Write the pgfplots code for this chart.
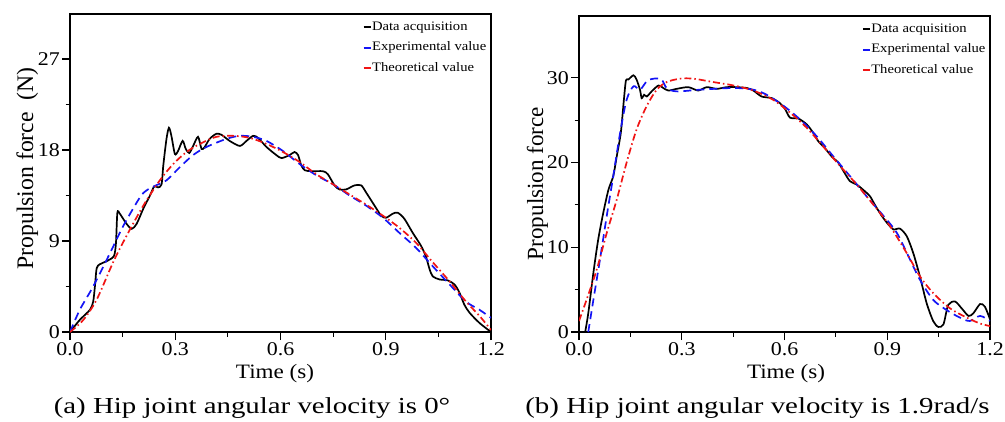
\documentclass[border=0pt]{standalone}
\usepackage{pgfplots}
\pgfplotsset{compat=1.18}
\usepackage{fontspec}
\setmainfont{Liberation Serif}[FakeStretch=1.13]
\newfontfamily\ylabfont{Liberation Serif}
\newfontfamily\capfont{Liberation Serif}[FakeStretch=1.26]
\pgfplotsset{
  myax/.style={
    scale only axis,
    xmin=0, xmax=1.2,
    xtick={0,0.3,0.6,0.9,1.2},
    minor x tick num=1,
    minor y tick num=1,
    tick pos=left,
    tick align=outside,
    major tick length=8bp,
    minor tick length=4.5bp,
    every tick/.style={black, line width=1.1bp},
    axis line style={line width=1.3bp},
    /pgf/number format/assume math mode=true,
    xticklabel={\pgfmathprintnumber[fixed,fixed zerofill,precision=1]{\tick}},
    ticklabel style={font=\fontsize{19.5}{20}\selectfont},
    xticklabel style={inner sep=0bp, text height=13.5bp, text depth=0pt, yshift=-1.5bp},
    yticklabel style={inner sep=2bp},
    legend cell align=left,
    legend style={draw=none, fill=none, inner sep=0pt, row sep=8.5bp,
      font=\fontsize{13}{13}\selectfont,
      nodes={inner sep=0pt, text height=9bp, text depth=3bp},
      /tikz/every even column/.append style={column sep=0bp}},
    legend image code/.code={\draw[#1, solid, line width=1.8bp] (0bp,0bp) -- (7.5bp,0bp);},
    clip=true,
  },
  blk/.style={black, line width=1.7bp, smooth, tension=0.45},
  blu/.style={color={rgb,255:red,20;green,20;blue,245}, line width=1.7bp, dash pattern=on 8bp off 5bp, smooth, tension=0.5},
  rd/.style={color={rgb,255:red,240;green,20;blue,20}, line width=1.7bp, dash pattern=on 7bp off 3bp on 1.5bp off 3bp, smooth, tension=0.5},
}
\begin{document}
\begin{tikzpicture}[x=1bp,y=1bp]
\path[use as bounding box] (0,0) rectangle (1005,421);
% ---------------- left panel ----------------
\begin{axis}[myax, at={(70bp,89bp)}, anchor=south west,
  width=421bp, height=318bp,
  ymin=0, ymax=31.45, ytick={0,9,18,27},
  legend style={at={(axis description cs:0.695,0.978)}, anchor=north west}]
\addplot[blk] coordinates {(0,0) (0.028,1.2) (0.057,2.2) (0.066,3.0) (0.071,4.5) (0.076,6.3) (0.085,6.7) (0.104,7.0) (0.125,7.5) (0.131,8.8) (0.135,11.8) (0.142,11.7) (0.161,10.7) (0.176,10.2) (0.19,10.7) (0.209,12.2) (0.228,13.5) (0.24,14.4) (0.251,14.3) (0.261,14.6) (0.266,16.5) (0.275,19.1) (0.282,20.2) (0.289,19.4) (0.299,17.6) (0.308,17.9) (0.321,18.9) (0.33,18.1) (0.34,17.7) (0.351,18.4) (0.365,19.3) (0.375,18.1) (0.384,18.3) (0.398,19.1) (0.417,19.6) (0.432,19.5) (0.455,18.9) (0.484,18.4) (0.503,18.9) (0.522,19.4) (0.536,19.2) (0.56,18.3) (0.588,17.5) (0.603,17.2) (0.626,17.5) (0.64,17.8) (0.65,17.5) (0.659,16.5) (0.669,16.0) (0.688,15.9) (0.721,15.9) (0.735,15.6) (0.754,14.5) (0.768,14.1) (0.787,14.1) (0.811,14.5) (0.83,14.5) (0.844,13.8) (0.868,12.5) (0.887,11.5) (0.901,11.3) (0.92,11.7) (0.934,11.8) (0.953,11.2) (0.977,9.8) (1.001,8.5) (1.015,7.4) (1.025,6.2) (1.034,5.5) (1.053,5.2) (1.077,5.1) (1.096,4.7) (1.11,3.9) (1.124,2.7) (1.139,1.9) (1.167,0.9) (1.2,0)};
\addlegendentry{Data acquisition}
\addplot[blu] coordinates {(0,0) (0.028,2.2) (0.066,4.5) (0.114,7.8) (0.152,10.5) (0.199,13.3) (0.218,14.0) (0.245,14.5) (0.275,15.0) (0.313,16.3) (0.351,17.5) (0.389,18.3) (0.446,19.1) (0.484,19.4) (0.522,19.3) (0.56,18.9) (0.607,17.9) (0.655,16.6) (0.702,15.5) (0.75,14.6) (0.797,13.5) (0.844,12.5) (0.892,11.3) (0.939,9.8) (0.987,8.3) (1.034,6.5) (1.082,4.7) (1.129,3.0) (1.167,2.2) (1.2,1.4)};
\addlegendentry{Experimental value}
\addplot[rd] coordinates {(0,0) (0.038,1.2) (0.076,3.2) (0.123,6.9) (0.161,9.5) (0.209,12.5) (0.256,15.0) (0.294,16.6) (0.332,17.8) (0.37,18.6) (0.417,19.3) (0.465,19.4) (0.512,19.2) (0.56,18.6) (0.607,17.8) (0.655,16.8) (0.702,15.6) (0.75,14.6) (0.797,13.6) (0.844,12.6) (0.892,11.5) (0.939,10.3) (0.987,8.8) (1.034,6.9) (1.082,5.0) (1.129,3.0) (1.167,1.6) (1.2,0.2)};
\addlegendentry{Theoretical value}
\end{axis}
% ---------------- right panel ----------------
\begin{axis}[myax, at={(579bp,89bp)}, anchor=south west,
  width=411bp, height=316bp,
  ymin=0, ymax=37.3, ytick={0,10,20,30},
  legend style={at={(axis description cs:0.688,0.978)}, anchor=north west}]
\addplot[blk] coordinates {(0.018,0) (0.027,2.2) (0.042,7.0) (0.056,10.9) (0.071,14.1) (0.086,16.8) (0.1,18.4) (0.11,20.7) (0.122,23.5) (0.131,27.4) (0.137,29.7) (0.144,29.8) (0.159,30.3) (0.168,29.8) (0.178,28.6) (0.183,27.6) (0.19,28.0) (0.198,27.8) (0.212,28.4) (0.232,29.1) (0.246,28.8) (0.261,28.5) (0.285,28.7) (0.319,28.9) (0.348,28.5) (0.373,28.9) (0.402,28.7) (0.431,28.9) (0.46,28.9) (0.49,28.8) (0.509,28.5) (0.533,27.8) (0.563,27.6) (0.587,27.0) (0.602,26.3) (0.616,25.3) (0.64,25.2) (0.665,24.5) (0.684,23.5) (0.699,22.5) (0.718,21.7) (0.738,20.7) (0.757,20.0) (0.772,19.0) (0.791,17.8) (0.811,17.4) (0.835,16.6) (0.85,16.0) (0.864,15.0) (0.884,13.7) (0.903,12.7) (0.918,12.1) (0.937,12.2) (0.957,11.3) (0.976,9.3) (0.995,6.6) (1.015,3.4) (1.034,1.3) (1.049,0.6) (1.064,0.9) (1.078,3.2) (1.098,3.6) (1.117,2.8) (1.137,1.9) (1.151,2.2) (1.171,3.3) (1.185,3.0) (1.2,1.5)};
\addlegendentry{Data acquisition}
\addplot[blu] coordinates {(0.027,0) (0.042,3.8) (0.061,8.5) (0.081,13.7) (0.1,18.4) (0.12,23.5) (0.139,27.4) (0.159,29.0) (0.178,28.6) (0.198,29.6) (0.217,29.9) (0.241,29.8) (0.256,28.8) (0.285,28.4) (0.353,28.6) (0.451,28.8) (0.509,28.6) (0.548,28.0) (0.597,26.7) (0.645,25.1) (0.694,23.1) (0.743,20.7) (0.791,18.4) (0.84,16.0) (0.889,13.7) (0.928,11.7) (0.967,8.5) (0.995,6.2) (1.034,3.8) (1.073,2.6) (1.112,1.7) (1.141,1.3) (1.171,1.9) (1.2,1.3)};
\addlegendentry{Experimental value}
\addplot[rd] coordinates {(0,1.3) (0.022,3.8) (0.052,7.4) (0.081,11.7) (0.11,15.6) (0.139,20.0) (0.168,23.9) (0.198,26.7) (0.227,28.6) (0.256,29.5) (0.295,29.9) (0.334,29.9) (0.392,29.5) (0.451,29.1) (0.509,28.5) (0.567,27.4) (0.616,25.9) (0.665,24.1) (0.713,21.9) (0.762,19.6) (0.811,17.4) (0.86,15.0) (0.908,12.5) (0.957,9.3) (0.995,6.6) (1.034,4.6) (1.083,2.8) (1.132,1.7) (1.171,1.0) (1.2,0.7)};
\addlegendentry{Theoretical value}
\end{axis}
% ---------------- labels ----------------
\node[anchor=base, inner sep=0pt, font=\fontsize{20.5}{21}\selectfont] at (275,42.5) {Time (s)};
\node[anchor=base, inner sep=0pt, font=\fontsize{20.5}{21}\selectfont] at (786,42.5) {Time (s)};
\node[rotate=90, anchor=base, font=\ylabfont\fontsize{23.8}{24}\selectfont] at (33,252.5) {Propulsion force\ \ (N)};
\node[rotate=90, anchor=base, font=\ylabfont\fontsize{23.2}{24}\selectfont] at (543,237.5) {Propulsion force};
\node[anchor=base, font=\capfont\fontsize{23}{24}\selectfont] at (252,8) {(a) Hip joint angular velocity is 0°};
\node[anchor=base, font=\capfont\fontsize{23}{24}\selectfont] at (757.5,8) {(b) Hip joint angular velocity is 1.9rad/s};
\end{tikzpicture}
\end{document}
